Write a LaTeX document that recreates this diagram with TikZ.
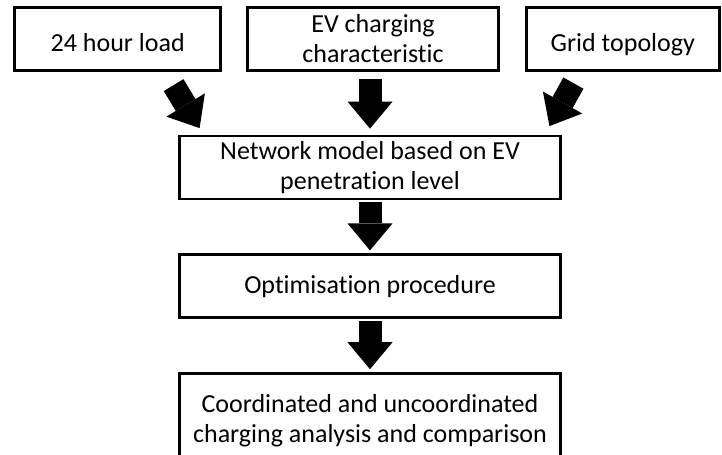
\documentclass[tikz,border=0pt]{standalone}
\usepackage{fontspec}
\setmainfont{Carlito}[RawFeature=-liga]
\usepackage{tikz}
\usetikzlibrary{arrows.meta,calc,positioning}
\tikzset{
    block/.style = {draw, line width=1.6pt, minimum height=1.26cm, align=center,
        inner xsep=0.1cm, inner ysep=0.04cm, font=\fontsize{14.8pt}{17pt}\selectfont},
    bigarrow/.style = {line width=0.46cm, -{Triangle[length=0.54cm,width=0.9cm,line width=0pt]}}
}
\begin{document}
\begin{tikzpicture}
            \useasboundingbox (0,0) rectangle (14.44,-9.08);
            \node[block,minimum width=7.62cm] (network) at (7.4,-3.35) {Network model based on EV\\penetration level};
            \node[block,minimum width=7.62cm] (optim) [below=1.06cm of network] {Optimisation procedure};
            \node[block,minimum width=7.62cm,minimum height=1.9cm] (analysis) [below=1.06cm of optim] {
                Coordinated and uncoordinated\\charging analysis and comparison};
            % inputs on top
            \node[block,minimum width=5.02cm] (evchar) [above=1.26cm of network,xshift=0.06cm] {EV charging\\characteristic};
            \node[block,minimum width=4.12cm,text height=0.5cm,text depth=0cm] (load) [left=0.48cm of evchar] {24 hour load};
            \node[block,minimum width=3.86cm,text height=0.5cm,text depth=0cm] (grid) [right=0.5cm of evchar] {Grid topology};
            % Draw the block arrows
            \draw[bigarrow] ([shift={(-0.97,-0.27)}]load.south east) -- ([shift={(0.43,0.13)}]network.north west);
            \draw[bigarrow] ([yshift=-0.14cm]network.north |- evchar.south) -- ([yshift=0.12cm]network.north);
            \draw[bigarrow] ([shift={(0.97,-0.23)}]grid.south west) -- ([shift={(-0.25,0.17)}]network.north east);
            \draw[bigarrow] ([yshift=-0.04cm]network.south) -- ([yshift=0.06cm]optim.north);
            \draw[bigarrow] ([yshift=-0.04cm]optim.south) -- ([yshift=0.06cm]analysis.north);
        \end{tikzpicture}
\end{document}
